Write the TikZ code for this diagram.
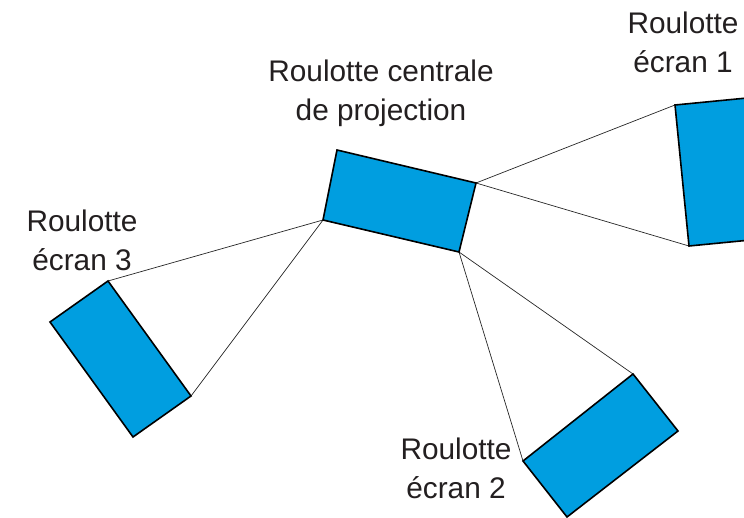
\documentclass[tikz,border=0pt]{standalone}
\usepackage{fontspec}
\setmainfont{Liberation Sans}
\definecolor{boxblue}{RGB}{0,158,224}
\definecolor{txt}{RGB}{35,31,32}
\tikzset{
  caravan/.style={fill=boxblue,draw=black,line width=1.6pt,line join=miter},
  link/.style={draw=black!85,line width=0.7pt},
  lbl/.style={text=txt,font=\fontsize{29.8}{39}\selectfont,align=center,inner sep=0pt,anchor=base}
}
\begin{document}
\begin{tikzpicture}[x=1pt,y=-1pt]
\useasboundingbox (0,0) rectangle (744,518);
\clip (0,0) rectangle (744,518);
% corners
\coordinate (cTL) at (337,150);
\coordinate (cTR) at (476,183);
\coordinate (cBR) at (459,252);
\coordinate (cBL) at (323,220);
\coordinate (aTL) at (675,105);
\coordinate (aTR) at (747,98);
\coordinate (aBR) at (761,239);
\coordinate (aBL) at (689,246);
\coordinate (bT) at (633,374);
\coordinate (bR) at (678,431);
\coordinate (bB) at (567,517);
\coordinate (bL) at (523,461);
\coordinate (dT) at (108,281);
\coordinate (dR) at (191,396);
\coordinate (dB) at (133,437);
\coordinate (dL) at (50,322);
% connectors
\draw[link] (cTR) -- (aTL);
\draw[link] (cTR) -- (aBL);
\draw[link] (cBR) -- (bL);
\draw[link] (cBR) -- (bT);
\draw[link] (cBL) -- (dT);
\draw[link] (cBL) -- (dR);
% caravans
\draw[caravan] (cTL) -- (cTR) -- (cBR) -- (cBL) -- cycle;
\draw[caravan] (aTL) -- (aTR) -- (aBR) -- (aBL) -- cycle;
\draw[caravan] (bT) -- (bR) -- (bB) -- (bL) -- cycle;
\draw[caravan] (dT) -- (dR) -- (dB) -- (dL) -- cycle;
% labels (anchor base = last line's baseline)
\node[lbl] (lc) at (381,121) {Roulotte centrale\\de projection};
\node[lbl] (l1) at (683,73) {Roulotte\\écran 1};
\node[lbl] (l3) at (82,271) {Roulotte\\écran 3};
\node[lbl] (l2) at (456,498) {Roulotte\\écran 2};
\end{tikzpicture}
\end{document}
